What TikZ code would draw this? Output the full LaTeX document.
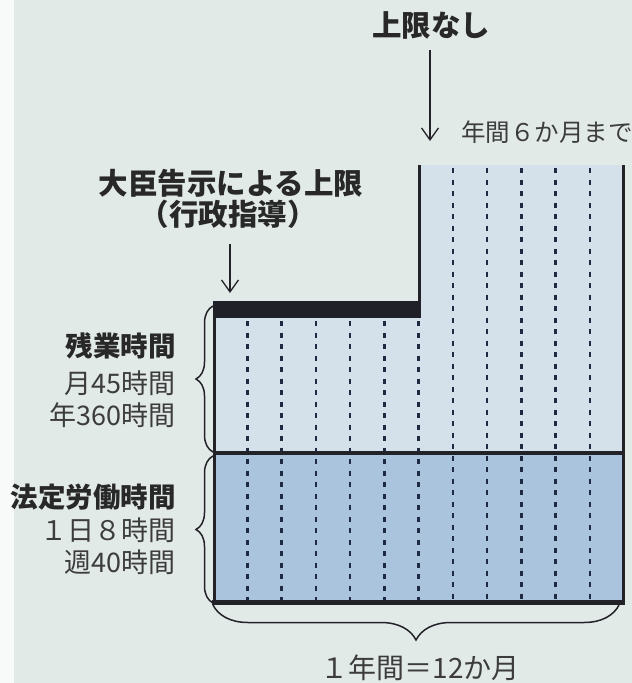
\documentclass[tikz,border=0pt]{standalone}
\usepackage{fontspec}
\setmainfont{Noto Sans CJK JP}
\usetikzlibrary{arrows.meta,decorations.pathreplacing}
\definecolor{bg}{RGB}{226,234,232}
\definecolor{upfill}{RGB}{212,225,234}
\definecolor{lowfill}{RGB}{171,196,221}
\definecolor{barc}{RGB}{32,32,40}
\definecolor{lc}{RGB}{34,34,40}
\definecolor{dashc}{RGB}{30,42,66}
\definecolor{txt}{RGB}{40,40,40}
\definecolor{txtr}{RGB}{60,60,60}
\tikzset{
  arr/.style={line width=1.3pt, draw=lc, -{Straight Barb[length=12pt,width=17pt]}},
  brc/.style={line width=1.5pt, draw=lc, decorate, decoration={brace, amplitude=#1}},
  mdash/.style={line width=2.5pt, draw=dashc, dash pattern=on 5pt off 6.5pt},
  boldlbl/.style={font=\bfseries\fontsize{27.5}{33}\selectfont, text=txt, inner sep=0pt, anchor=east},
  reglbl/.style={font=\fontsize{27}{33}\selectfont, text=txtr, inner sep=0pt, anchor=east},
}
\begin{document}
\begin{tikzpicture}[x=1pt,y=-1pt]
\useasboundingbox (0,0) rectangle (632,683);
\fill[bg] (0,0) rectangle (632,683);
\fill[white!75!bg] (0,0) rectangle (14,683);
% fills
\fill[upfill] (213,318) -- (419,318) -- (419,165) -- (623,165) -- (623,453) -- (213,453) -- cycle;
\fill[lowfill] (213,453) rectangle (623,602);
% dashed month lines
\foreach \i in {1,...,11} {
  \pgfmathsetmacro\xx{213+34.25*\i}
  \ifnum\i>6
    \draw[mdash] (\xx,168) -- (\xx,600);
  \else
    \draw[mdash] (\xx,321) -- (\xx,600);
  \fi
}
% outline
\draw[line width=3pt, lc] (214,301) -- (214,602);
\draw[line width=3pt, lc] (419,318) -- (419,165);
\draw[line width=3pt, lc] (623,165) -- (623,602);
\draw[line width=4.5pt, lc] (213,453) -- (624.5,453);
\draw[line width=5pt, lc] (212,602) -- (625,602);
\fill[barc] (212.5,301) rectangle (420.5,318);
% texts
\node[font=\bfseries\fontsize{29.5}{33}\selectfont, text=txt, inner sep=0pt] (nolimit) at (431,25) {上限なし};
\node[font=\fontsize{24.5}{28}\selectfont, text=txtr, inner sep=0pt, anchor=west] (six) at (461,132) {年間６か月まで};
\node[font=\bfseries\fontsize{29.5}{31}\selectfont, text=txt, inner sep=0pt] (minister) at (231,183) {大臣告示による上限};
\node[font=\bfseries\fontsize{29.5}{31}\selectfont, text=txt, inner sep=0pt] (gyosei) at (228,214) {（行政指導）};
\node[boldlbl] (ot1) at (176,346) {残業時間};
\node[reglbl] (ot2) at (176,383) {月45時間};
\node[reglbl] (ot3) at (176,415) {年360時間};
\node[boldlbl] (lg1) at (176,497) {法定労働時間};
\node[reglbl] (lg2) at (176,530) {１日８時間};
\node[reglbl] (lg3) at (176,562) {週40時間};
\node[font=\fontsize{28}{30}\selectfont, text=txtr, inner sep=0pt] (year) at (420,668) {１年間＝12か月};
% arrows
\coordinate (a1s) at (430,50);
\coordinate (a1e) at (430,141);
\draw[arr] (a1s) -- (a1e);
\coordinate (a2s) at (230,244);
\coordinate (a2e) at (230,293);
\draw[arr] (a2s) -- (a2e);
% braces
\coordinate (b1a) at (213,452);
\coordinate (b1b) at (213,306);
\draw[brc=17pt] (b1a) -- (b1b);
\coordinate (b2a) at (213,603);
\coordinate (b2b) at (213,456);
\draw[brc=17pt] (b2a) -- (b2b);
\coordinate (b3a) at (619,605);
\coordinate (b3b) at (213,605);
\draw[brc=35pt] (b3a) -- (b3b);
\end{tikzpicture}
\end{document}
